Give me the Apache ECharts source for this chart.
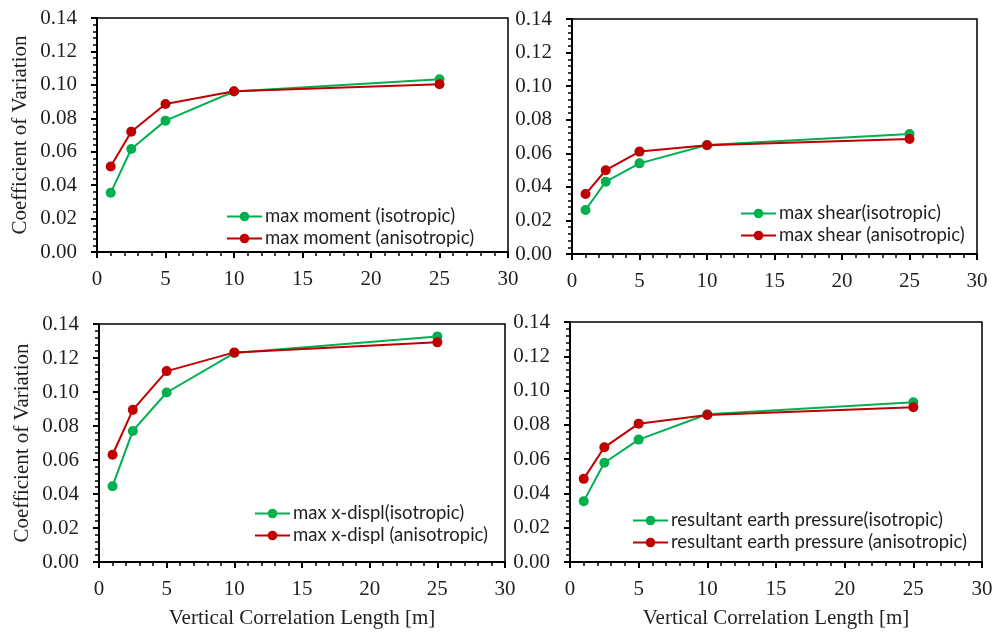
<!DOCTYPE html>
<html>
<head>
<meta charset="utf-8">
<script src="https://cdn.jsdelivr.net/npm/echarts@6/dist/echarts.min.js"></script>
<style>
  html, body { margin: 0; padding: 0; background: #fff; }
  #chart { width: 997px; height: 632px; }
</style>
</head>
<body>
<div id="chart"></div>
<script>
// Vertical correlation length [m]
const lengths = [1, 2.5, 5, 10, 25];

// Coefficient of variation per response quantity
const momentIso = [0.0354, 0.0616, 0.0786, 0.0960, 0.1034];
const momentAniso = [0.0512, 0.0720, 0.0886, 0.0962, 0.1004];
const shearIso = [0.0262, 0.0431, 0.0540, 0.0649, 0.0715];
const shearAniso = [0.0357, 0.0499, 0.0610, 0.0648, 0.0685];
const displIso = [0.0446, 0.0771, 0.0997, 0.1229, 0.1327];
const displAniso = [0.0631, 0.0895, 0.1123, 0.1233, 0.1292];
const pressureIso = [0.0355, 0.0579, 0.0714, 0.0862, 0.0932];
const pressureAniso = [0.0485, 0.0669, 0.0807, 0.0858, 0.0903];

const seriesNames = [
  ['max moment (isotropic)', 'max moment (anisotropic)'],
  ['max shear(isotropic)', 'max shear (anisotropic)'],
  ['max x-displ(isotropic)', 'max x-displ (anisotropic)'],
  ['resultant earth pressure(isotropic)', 'resultant earth pressure (anisotropic)']
];
const seriesValues = [
  [momentIso, momentAniso],
  [shearIso, shearAniso],
  [displIso, displAniso],
  [pressureIso, pressureAniso]
];

const xTitle = 'Vertical Correlation Length [m]';
const yTitle = 'Coefficient of Variation';

const GREEN = '#00b050';
const RED = '#c00000';
const INK = '#1f1f1f';
const SERIF = '"Times New Roman", "Liberation Serif", serif';
const SANS = 'Lato, sans-serif';

const panels = [
  { grid: { left: 97, top: 18, width: 411, height: 234 }, legend: { left: 221, top: 202 }, yName: true, xName: false },
  { grid: { left: 572, top: 19, width: 405, height: 235 }, legend: { left: 735, top: 199 }, yName: false, xName: false },
  { grid: { left: 99, top: 324, width: 406, height: 238 }, legend: { left: 249, top: 499 }, yName: true, xName: true },
  { grid: { left: 570, top: 322, width: 412, height: 240 }, legend: { left: 627, top: 506 }, yName: false, xName: true }
];

const labelStyle = { color: INK, fontFamily: SERIF, fontSize: 21 };

const grid = [], xAxis = [], yAxis = [], legend = [], series = [];

panels.forEach((p, i) => {
  grid.push(Object.assign({
    show: true, borderColor: '#000', borderWidth: 1.5, backgroundColor: 'transparent'
  }, p.grid));

  // main x axis: line, labels, outward major ticks
  xAxis.push({
    type: 'value', gridIndex: i, min: 0, max: 30, interval: 5,
    axisLine: { lineStyle: { color: '#000', width: 2 } },
    axisTick: { show: true, inside: false, length: 6, lineStyle: { color: '#000', width: 2 } },
    axisLabel: Object.assign({ margin: 17 }, labelStyle),
    splitLine: { show: false },
    name: p.xName ? xTitle : '',
    nameLocation: 'middle', nameGap: 46,
    nameTextStyle: labelStyle
  });
  // companion x axis: inward minor ticks
  xAxis.push({
    type: 'value', gridIndex: i, min: 0, max: 30, interval: 5,
    axisLine: { show: false },
    axisTick: { show: true, inside: true, length: 4, lineStyle: { color: '#000', width: 2 } },
    minorTick: { show: true, splitNumber: 5, length: 4, lineStyle: { color: '#000', width: 1.5 } },
    axisLabel: { show: false },
    splitLine: { show: false }
  });

  yAxis.push({
    type: 'value', gridIndex: i, min: 0, max: 0.14, interval: 0.02,
    axisLine: { show: true, lineStyle: { color: '#000', width: 2 } },
    axisTick: { show: true, inside: false, length: 6, lineStyle: { color: '#000', width: 2 } },
    axisLabel: Object.assign({ margin: 20, formatter: v => v.toFixed(2) }, labelStyle),
    splitLine: { show: false },
    name: p.yName ? yTitle : '',
    nameLocation: 'middle', nameGap: 66,
    nameTextStyle: labelStyle
  });
  yAxis.push({
    type: 'value', gridIndex: i, min: 0, max: 0.14, interval: 0.02,
    axisLine: { show: false },
    axisTick: { show: true, inside: true, length: 4, lineStyle: { color: '#000', width: 2 } },
    minorTick: { show: true, splitNumber: 5, length: 4, lineStyle: { color: '#000', width: 1.5 } },
    axisLabel: { show: false },
    splitLine: { show: false }
  });

  legend.push({
    left: p.legend.left, top: p.legend.top, orient: 'vertical',
    itemWidth: 35, itemHeight: 12, itemGap: 3,
    data: seriesNames[i],
    textStyle: { color: INK, fontFamily: SANS, fontSize: 18.5, padding: [0, 0, 0, -2] }
  });

  [GREEN, RED].forEach((c, k) => {
    series.push({
      name: seriesNames[i][k], type: 'line',
      xAxisIndex: 2 * i, yAxisIndex: 2 * i,
      data: lengths.map((x, j) => [x, seriesValues[i][k][j]]),
      symbol: 'circle', symbolSize: 10,
      lineStyle: { color: c, width: 2 },
      itemStyle: { color: c },
      animation: false
    });
  });
});

const chart = echarts.init(document.getElementById('chart'), null, { renderer: 'canvas' });
chart.setOption({ animation: false, backgroundColor: '#fff', grid, xAxis, yAxis, legend, series });
</script>
</body>
</html>
